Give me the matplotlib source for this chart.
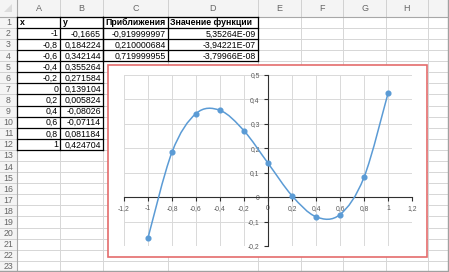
import numpy as np
import matplotlib
matplotlib.use('Agg')
import matplotlib.pyplot as plt
import matplotlib.patches as patches
from matplotlib.path import Path
from matplotlib.ticker import MultipleLocator, FuncFormatter

plt.rcParams['font.family'] = ['Liberation Sans', 'DejaVu Sans']

# Dades de la taula
x_vals = [-1, -0.8, -0.6, -0.4, -0.2, 0, 0.2, 0.4, 0.6, 0.8, 1]
y_vals = [-0.1665, 0.184224, 0.342144, 0.355264, 0.271584, 0.139104,
          0.005824, -0.08026, -0.07114, 0.081184, 0.424704]
aprox = [-0.919999997, 0.210000684, 0.719999955]
valor_funcio = [5.35264e-09, -3.94221e-07, -3.79966e-08]
capcaleres = ['x', 'y', 'Приближения', 'Значение функции']
lletres = ['A', 'B', 'C', 'D', 'E', 'F', 'G', 'H']

# Geometria del full (pixels)
W, H = 449, 272
col_x = [17, 60, 103, 168, 258, 301, 343, 386, 428, 471]
head_h = 16.7
row_h = 11.1
n_rows = 23
row_y = [head_h + i * row_h for i in range(n_rows + 1)]

fig = plt.figure(figsize=(W / 100, H / 100), dpi=100)
bg = fig.add_axes([0, 0, 1, 1])
bg.set_xlim(0, W)
bg.set_ylim(H, 0)
bg.axis('off')

# capçaleres grises
bg.add_patch(patches.Rectangle((0, 0), W, head_h, facecolor='#f4f4f4', edgecolor='none'))
bg.add_patch(patches.Rectangle((0, 0), col_x[0], H, facecolor='#f4f4f4', edgecolor='none'))

# quadrícula
for y in row_y[1:]:
    bg.plot([col_x[0], W], [y, y], color='#d6d6d6', lw=0.7)
    bg.plot([0, col_x[0]], [y, y], color='#d0d0d0', lw=0.7)
for x in col_x[1:]:
    bg.plot([x, x], [head_h, H], color='#d6d6d6', lw=0.7)
    bg.plot([x, x], [0, head_h], color='#d0d0d0', lw=0.7)
bg.plot([0, W], [head_h, head_h], color='#a8a8a8', lw=0.8)
bg.plot([col_x[0], col_x[0]], [0, H], color='#a8a8a8', lw=0.8)
bg.add_patch(patches.Polygon([[12, 4], [12, 12], [4, 12]], closed=True,
                             facecolor='#dcdcdc', edgecolor='none'))

for i, l in enumerate(lletres):
    bg.text((col_x[i] + col_x[i + 1]) / 2, head_h / 2 + 0.5, l, ha='center', va='center',
            fontsize=6.5, color='#666666', clip_on=True)
for i in range(n_rows):
    bg.text(col_x[0] / 2, row_y[i] + row_h / 2 + 0.5, str(i + 1), ha='center', va='center',
            fontsize=6.3, color='#666666', clip_on=True)


def fmt(v, f='{:g}'):
    return f.format(v).replace('.', ',')


def cell(r, c, txt, bold=False, left=False):
    yc = row_y[r] + row_h / 2 + 0.6
    if left:
        bg.text(col_x[c] + 2.5, yc, txt, ha='left', va='center', fontsize=6.3,
                fontweight='bold' if bold else 'normal')
    else:
        bg.text(col_x[c + 1] - 2, yc, txt, ha='right', va='center', fontsize=6.3)


for j, t in enumerate(capcaleres):
    cell(0, j, t, bold=True, left=True)
for i, (xv, yv) in enumerate(zip(x_vals, y_vals)):
    cell(i + 1, 0, fmt(xv))
    cell(i + 1, 1, fmt(yv))
for i, (a, v) in enumerate(zip(aprox, valor_funcio)):
    cell(i + 1, 2, fmt(a, '{:.9f}'))
    cell(i + 1, 3, fmt(v, '{:.5E}'))

# vores negres
def vores(c0, c1, r0, r1):
    for r in range(r0, r1 + 1):
        bg.plot([col_x[c0], col_x[c1]], [row_y[r], row_y[r]], color='black', lw=0.9)
    for c in range(c0, c1 + 1):
        bg.plot([col_x[c], col_x[c]], [row_y[r0], row_y[r1]], color='black', lw=0.9)


vores(0, 2, 0, 12)
vores(2, 4, 0, 4)

# marc de la finestra
bg.plot([W - 1.5, W - 1.5], [0, H], color='#a0a0a0', lw=1)
bg.plot([0, W], [H - 1, H - 1], color='#a0a0a0', lw=1)

# àrea del gràfic
bg.add_patch(patches.Rectangle((108, 65), 319, 191.5, facecolor='white',
                               edgecolor='#e46c6c', lw=1.2, zorder=5))

# Gràfic
pl, pr, pt, pb = 124, 412, 75, 246
ax = fig.add_axes([pl / W, (H - pb) / H, (pr - pl) / W, (pb - pt) / H])
ax.set_facecolor('none')
ax.set_xlim(-1.2, 1.2)
ax.set_ylim(-0.2, 0.5)
ax.xaxis.set_major_locator(MultipleLocator(0.2))
ax.yaxis.set_major_locator(MultipleLocator(0.1))


def tick_fmt(v, pos):
    if abs(v) < 1e-9:
        return '0'
    return fmt(round(v, 1))


ax.xaxis.set_major_formatter(FuncFormatter(tick_fmt))
ax.yaxis.set_major_formatter(FuncFormatter(tick_fmt))
ax.grid(True, color='#d9d9d9', lw=0.7)
ax.set_axisbelow(True)
for s in ['top', 'right']:
    ax.spines[s].set_visible(False)
ax.spines['left'].set_position(('data', 0))
ax.spines['bottom'].set_position(('data', 0))
for s in ['left', 'bottom']:
    ax.spines[s].set_color('#303030')
    ax.spines[s].set_linewidth(0.8)
ax.tick_params(direction='out', length=3, width=0.8, color='#303030',
               labelsize=4.9, labelcolor='#595959')
ax.tick_params(axis='y', pad=3)
ax.tick_params(axis='x', pad=2.5)


# línia suavitzada tipus Excel (corbes de Bezier)
def cami_suau(xs, ys):
    p = np.column_stack([xs, ys])
    verts = [p[0]]
    codes = [Path.MOVETO]
    n = len(p)
    for i in range(n - 1):
        p0 = p[max(i - 1, 0)]
        p3 = p[min(i + 2, n - 1)]
        verts += [p[i] + (p[i + 1] - p0) / 6, p[i + 1] - (p3 - p[i]) / 6, p[i + 1]]
        codes += [Path.CURVE4] * 3
    return Path(verts, codes)


ax.add_patch(patches.PathPatch(cami_suau(x_vals, y_vals), facecolor='none',
                               edgecolor='#5b9bd5', lw=1.1, zorder=3))
ax.plot(x_vals, y_vals, 'o', color='#5b9bd5', markersize=3.4, zorder=4)

plt.savefig('out.png', dpi=100)
